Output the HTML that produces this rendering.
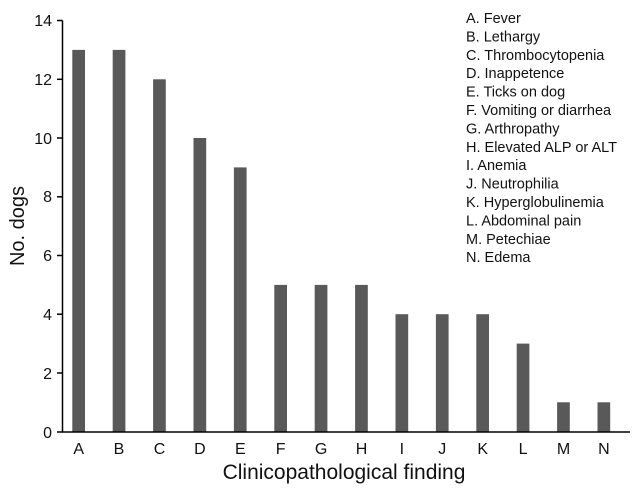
<!DOCTYPE html><html><head><style>body{margin:0;background:#fff}</style></head><body>
<svg width="642" height="491" xmlns="http://www.w3.org/2000/svg" font-family="Liberation Sans, sans-serif">
<rect width="642" height="491" fill="#fff"/>
<g fill="#595959">
<rect x="72.3" y="49.9" width="12.7" height="381.8"/>
<rect x="112.7" y="49.9" width="12.7" height="381.8"/>
<rect x="153.1" y="79.3" width="12.7" height="352.4"/>
<rect x="193.5" y="138" width="12.7" height="293.7"/>
<rect x="233.9" y="167.4" width="12.7" height="264.3"/>
<rect x="274.3" y="284.9" width="12.7" height="146.8"/>
<rect x="314.7" y="284.9" width="12.7" height="146.8"/>
<rect x="355.1" y="284.9" width="12.7" height="146.8"/>
<rect x="395.5" y="314.2" width="12.7" height="117.5"/>
<rect x="435.9" y="314.2" width="12.7" height="117.5"/>
<rect x="476.3" y="314.2" width="12.7" height="117.5"/>
<rect x="516.7" y="343.6" width="12.7" height="88.1"/>
<rect x="557.1" y="402.3" width="12.7" height="29.4"/>
<rect x="597.5" y="402.3" width="12.7" height="29.4"/>
</g>
<g stroke="#000" stroke-width="1.5">
<line x1="62.5" y1="20.5" x2="62.5" y2="432"/>
<line x1="57" y1="432" x2="630" y2="432"/>
<line x1="57" y1="20.5" x2="62.5" y2="20.5"/>
<line x1="57" y1="79.3" x2="62.5" y2="79.3"/>
<line x1="57" y1="138" x2="62.5" y2="138"/>
<line x1="57" y1="196.8" x2="62.5" y2="196.8"/>
<line x1="57" y1="255.5" x2="62.5" y2="255.5"/>
<line x1="57" y1="314.2" x2="62.5" y2="314.2"/>
<line x1="57" y1="373" x2="62.5" y2="373"/>
</g>
<g font-size="16" text-anchor="end" fill="#111">
<text x="52" y="26">14</text><text x="52" y="85">12</text><text x="52" y="144">10</text>
<text x="52" y="202">8</text><text x="52" y="261">6</text><text x="52" y="320">4</text>
<text x="52" y="379">2</text><text x="52" y="438">0</text>
</g>
<g font-size="16" text-anchor="middle" fill="#111">
<text x="78.7" y="454">A</text><text x="119" y="454">B</text><text x="159.5" y="454">C</text>
<text x="199.9" y="454">D</text><text x="240.3" y="454">E</text><text x="280.7" y="454">F</text>
<text x="321.1" y="454">G</text><text x="361.5" y="454">H</text><text x="401.9" y="454">I</text>
<text x="442.3" y="454">J</text><text x="482.7" y="454">K</text><text x="523.1" y="454">L</text>
<text x="563.5" y="454">M</text><text x="603.9" y="454">N</text>
</g>
<text x="344" y="479" font-size="21" text-anchor="middle" fill="#111">Clinicopathological finding</text>
<text transform="translate(24,226) rotate(-90)" font-size="20" text-anchor="middle" fill="#111">No. dogs</text>
<g font-size="14.5" fill="#111">
<text x="466" y="23">A. Fever</text>
<text x="466" y="41.4">B. Lethargy</text>
<text x="466" y="59.8">C. Thrombocytopenia</text>
<text x="466" y="78.2">D. Inappetence</text>
<text x="466" y="96.6">E. Ticks on dog</text>
<text x="466" y="115">F. Vomiting or diarrhea</text>
<text x="466" y="133.4">G. Arthropathy</text>
<text x="466" y="151.8">H. Elevated ALP or ALT</text>
<text x="466" y="170.2">I. Anemia</text>
<text x="466" y="188.6">J. Neutrophilia</text>
<text x="466" y="207">K. Hyperglobulinemia</text>
<text x="466" y="225.4">L. Abdominal pain</text>
<text x="466" y="243.8">M. Petechiae</text>
<text x="466" y="262.2">N. Edema</text>
</g>
</svg>
</body></html>
